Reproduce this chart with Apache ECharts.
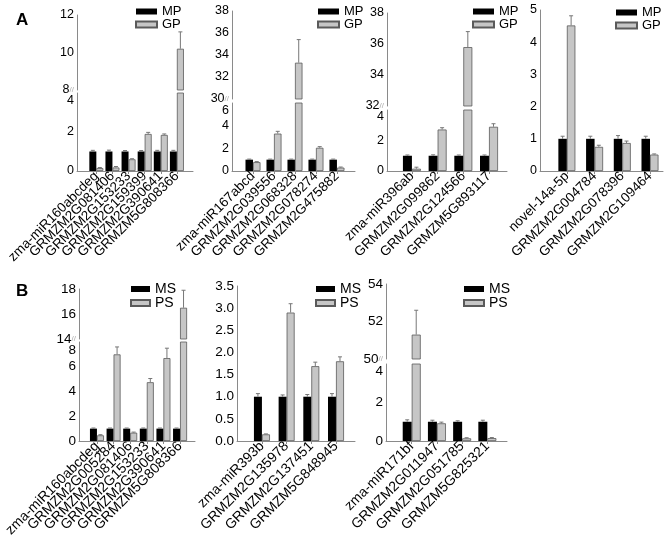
<!DOCTYPE html>
<html><head><meta charset="utf-8">
<script src="https://cdn.jsdelivr.net/npm/echarts@6/dist/echarts.min.js"></script>
<style>html,body{margin:0;padding:0;background:#fff}#c{width:672px;height:539px}</style>
</head><body><div id="c"></div>
<script>
// ---------- data ----------
const catA1 = ['zma-miR160abcdeg','GRMZM2G081406','GRMZM2G153233','GRMZM2G159399','GRMZM2G390641','GRMZM5G808366'];
const mpA1 = [1, 1, 1, 1, 1, 1];
const mpErrA1 = [0.06, 0.07, 0.05, 0.05, 0.06, 0.06];
const gpA1 = [0.15, 0.18, 0.6, 1.9, 1.85, 10.2];
const gpErrA1 = [0.03, 0.05, 0.03, 0.08, 0.05, 0.9];

const catA2 = ['zma-miR167abcd','GRMZM2G039556','GRMZM2G068328','GRMZM2G078274','GRMZM2G475882'];
const mpA2 = [1, 1, 1, 1, 1];
const mpErrA2 = [0.05, 0.05, 0.05, 0.05, 0.05];
const gpA2 = [0.78, 3.3, 33.3, 2.05, 0.3];
const gpErrA2 = [0.05, 0.2, 2.1, 0.1, 0.05];

const catA3 = ['zma-miR396ab','GRMZM2G099862','GRMZM2G124566','GRMZM5G893117'];
const mpA3 = [1, 1, 1, 1];
const mpErrA3 = [0.05, 0.06, 0.05, 0.05];
const gpA3 = [0.15, 2.72, 35.8, 2.9];
const gpErrA3 = [0.1, 0.12, 1.0, 0.2];

const catA4 = ['novel-14a-5p','GRMZM2G004784','GRMZM2G078396','GRMZM2G109464'];
const mpA4 = [1, 1, 1, 1];
const mpErrA4 = [0.08, 0.08, 0.1, 0.08];
const gpA4 = [4.52, 0.75, 0.87, 0.51];
const gpErrA4 = [0.3, 0.05, 0.06, 0.02];

const catB1 = ['zma-miR160abcdeg','GRMZM2G005284','GRMZM2G081406','GRMZM2G153233','GRMZM2G390641','GRMZM5G808366'];
const msB1 = [1, 1, 1, 1, 1, 1];
const msErrB1 = [0.05, 0.05, 0.05, 0.05, 0.05, 0.05];
const psB1 = [0.46, 7.0, 0.67, 4.75, 6.7, 16.5];
const psErrB1 = [0.05, 0.6, 0.05, 0.3, 0.8, 1.4];

const catB2 = ['zma-miR393b','GRMZM2G135978','GRMZM2G137451','GRMZM5G848945'];
const msB2 = [1, 1, 1, 1];
const msErrB2 = [0.07, 0.04, 0.05, 0.07];
const psB2 = [0.15, 2.9, 1.69, 1.8];
const psErrB2 = [0.01, 0.2, 0.09, 0.1];

const catB3 = ['zma-miR171bf','GRMZM2G011947','GRMZM2G051785','GRMZM5G825321'];
const msB3 = [1, 1, 1, 1];
const msErrB3 = [0.1, 0.08, 0.05, 0.08];
const psB3 = [51.3, 0.92, 0.14, 0.15];
const psErrB3 = [1.3, 0.06, 0.03, 0.03];

// ---------- layout ----------
const FONT = '"Liberation Sans", Arial, Helvetica, sans-serif';
const AX = '#8a8a8a';
const BLACK = { color: '#000' };
const GRAY = { color: '#c6c6c6', borderColor: '#5a5a5a', borderWidth: 0.8 };

const panels = [
  { cats: catA1, series: [{ name: 'MP', v: mpA1, e: mpErrA1 }, { name: 'GP', v: gpA1, e: gpErrA1 }],
    left: 77, width: 116, xmin: -1.2, xmax: 6.0, bw: 7, yfont: 12.5, xfont: 13.5,
    lower: { top: 93, bottom: 171, min: 0, max: 4, interval: 2, shift: 8 },
    upper: { top: 15, bottom: 90, min: 8, max: 12, interval: 2 },
    legend: { left: 135, top: 5, w: 21, h: 6, lh: 10, fs: 13 } },
  { cats: catA2, series: [{ name: 'MP', v: mpA2, e: mpErrA2 }, { name: 'GP', v: gpA2, e: gpErrA2 }],
    left: 232, width: 123, xmin: -1.0, xmax: 4.86, bw: 7.5, yfont: 12.5, xfont: 13.5,
    lower: { top: 103, bottom: 171, min: 0, max: 6, interval: 2, shift: 8 },
    upper: { top: 11, bottom: 99, min: 30, max: 38, interval: 2 },
    legend: { left: 317, top: 5, w: 21, h: 6, lh: 10, fs: 13 } },
  { cats: catA3, series: [{ name: 'MP', v: mpA3, e: mpErrA3 }, { name: 'GP', v: gpA3, e: gpErrA3 }],
    left: 387, width: 120, xmin: -0.97, xmax: 3.7, bw: 9, yfont: 12.5, xfont: 13.5,
    lower: { top: 110, bottom: 171, min: 0, max: 4, interval: 2, shift: 7 },
    upper: { top: 13, bottom: 106, min: 32, max: 38, interval: 2 },
    legend: { left: 472, top: 5, w: 21, h: 6, lh: 10, fs: 13 } },
  { cats: catA4, series: [{ name: 'MP', v: mpA4, e: mpErrA4 }, { name: 'GP', v: gpA4, e: gpErrA4 }],
    left: 540, width: 123, xmin: -0.97, xmax: 3.47, bw: 8.5, yfont: 12.5, xfont: 13.5,
    lower: { top: 10, bottom: 171, min: 0, max: 5, interval: 1, shift: 0 },
    upper: null,
    legend: { left: 615, top: 6, w: 21, h: 6, lh: 10, fs: 13 } },
  { cats: catB1, series: [{ name: 'MS', v: msB1, e: msErrB1 }, { name: 'PS', v: psB1, e: psErrB1 }],
    left: 79, width: 116, xmin: -1.08, xmax: 5.9, bw: 7, yfont: 13.5, xfont: 14,
    lower: { top: 342, bottom: 441, min: 0, max: 8, interval: 2, shift: 8 },
    upper: { top: 289, bottom: 339, min: 14, max: 18, interval: 2 },
    legend: { left: 130, top: 282, w: 19, h: 6, lh: 11.5, fs: 14 } },
  { cats: catB2, series: [{ name: 'MS', v: msB2, e: msErrB2 }, { name: 'PS', v: psB2, e: psErrB2 }],
    left: 237, width: 118, xmin: -1.01, xmax: 3.77, bw: 8, yfont: 13.5, xfont: 14, fixed: 1,
    lower: { top: 286, bottom: 441, min: 0, max: 3.5, interval: 0.5, shift: 0 },
    upper: null,
    legend: { left: 315, top: 282, w: 19, h: 6, lh: 11.5, fs: 14 } },
  { cats: catB3, series: [{ name: 'MS', v: msB3, e: msErrB3 }, { name: 'PS', v: psB3, e: psErrB3 }],
    left: 386, width: 121, xmin: -1.02, xmax: 3.78, bw: 9, yfont: 13.5, xfont: 14,
    lower: { top: 364, bottom: 441, min: 0, max: 4, interval: 2, shift: 7 },
    upper: { top: 284, bottom: 359, min: 50, max: 54, interval: 2 },
    legend: { left: 463, top: 282, w: 20, h: 6, lh: 11.5, fs: 14 } }
];

function errItem(dx) {
  return function (params, api) {
    const x = api.value(0), v = api.value(1), e = api.value(2);
    const p0 = api.coord([x, v]);
    const p1 = api.coord([x, v + e]);
    const cx = p0[0] + dx;
    return { type: 'group', children: [
      { type: 'line', shape: { x1: cx, y1: p0[1], x2: cx, y2: p1[1] }, style: { stroke: '#777', lineWidth: 1 } },
      { type: 'line', shape: { x1: cx - 2, y1: p1[1], x2: cx + 2, y2: p1[1] }, style: { stroke: '#777', lineWidth: 1 } }
    ] };
  };
}

const option = {
  animation: false,
  backgroundColor: '#fff',
  textStyle: { fontFamily: FONT, color: '#000' },
  title: [
    { text: 'A', left: 11, top: 7, textStyle: { fontFamily: FONT, fontSize: 17, fontWeight: 'bold', color: '#000' } },
    { text: 'B', left: 11, top: 278, textStyle: { fontFamily: FONT, fontSize: 17, fontWeight: 'bold', color: '#000' } }
  ],
  legend: [], grid: [], xAxis: [], yAxis: [], series: []
};

panels.forEach(p => {
  const segs = p.upper ? [p.lower, p.upper] : [p.lower];
  segs.forEach((seg, si) => {
    const isLower = si === 0;
    const gi = option.grid.length;
    option.grid.push({ left: p.left, top: seg.top, width: p.width, height: seg.bottom - seg.top, containLabel: false, outerBoundsMode: 'none' });
    option.xAxis.push({
      type: 'value', gridIndex: gi, min: p.xmin, max: p.xmax, show: isLower,
      splitLine: { show: false },
      axisLine: { show: true, onZero: false, lineStyle: { color: AX, width: 1 } },
      axisTick: { show: false },
      axisLabel: { show: false }
    });
    option.yAxis.push({
      type: 'value', gridIndex: gi, min: seg.min, max: seg.max, interval: seg.interval,
      splitLine: { show: false },
      axisLine: { show: true, onZero: false, lineStyle: { color: AX, width: 1 } },
      axisTick: { show: false },
      axisLabel: { margin: 3, fontSize: p.yfont, color: '#000', fontFamily: FONT, showMinLabel: true, showMaxLabel: true,
        formatter: v => {
          const t = p.fixed ? v.toFixed(p.fixed) : String(v);
          if (isLower && p.upper && v === seg.max) return '{d|' + t + '}';
          if (!isLower && v === seg.min) return t + '{b|//}';
          return t;
        },
        rich: {
          d: { fontSize: p.yfont, color: '#000', fontFamily: FONT, padding: [2 * (seg.shift || 0), 0, 0, 0] },
          b: { fontSize: 8, color: '#aaa', fontFamily: FONT }
        } }
    });
    p.series.forEach((s, k) => {
      const barData = s.v.map((v, i) => [i, v]).filter(d => isLower || d[1] > seg.min);
      option.series.push({
        type: 'bar', name: s.name, xAxisIndex: gi, yAxisIndex: gi, barWidth: p.bw, barGap: '0%', clip: true,
        itemStyle: k === 0 ? BLACK : GRAY, data: barData, silent: true
      });
      const errData = s.v.map((v, i) => [i, v, s.e[i]]).filter(d => isLower ? d[1] <= seg.max : d[1] > seg.min);
      option.series.push({
        type: 'custom', xAxisIndex: gi, yAxisIndex: gi, z: 3, silent: true,
        encode: { x: 0, y: 1 }, renderItem: errItem(k === 0 ? -p.bw / 2 : p.bw / 2), data: errData
      });
    });
  });
  // category label axis, aligned to the value-axis positions of the categories
  const ppu = p.width / (p.xmax - p.xmin);
  const lgi = option.grid.length;
  option.grid.push({ left: p.left + (-0.5 - p.xmin) * ppu, top: p.lower.top, width: p.cats.length * ppu,
    height: p.lower.bottom - p.lower.top, containLabel: false, outerBoundsMode: 'none' });
  option.xAxis.push({
    type: 'category', gridIndex: lgi, data: p.cats, boundaryGap: true,
    axisLine: { show: false },
    axisTick: { show: true, alignWithLabel: true, length: 3, lineStyle: { color: AX } },
    axisLabel: { interval: 0, rotate: 45, margin: 3, fontSize: p.xfont, color: '#000', fontFamily: FONT, hideOverlap: false }
  });
  option.yAxis.push({ type: 'value', gridIndex: lgi, show: false, min: 0, max: 1 });

  const L = p.legend;
  option.legend.push({
    data: p.series.map(s => s.name), orient: 'vertical', left: L.left, top: L.top, padding: 0,
    itemGap: 0, itemWidth: L.w, itemHeight: L.h, icon: 'rect', selectedMode: false,
    textStyle: { fontSize: L.fs, lineHeight: L.lh, color: '#000', fontFamily: FONT }
  });
});

const chart = echarts.init(document.getElementById('c'), null, { renderer: 'canvas' });
chart.setOption(option);
</script>
</body></html>
